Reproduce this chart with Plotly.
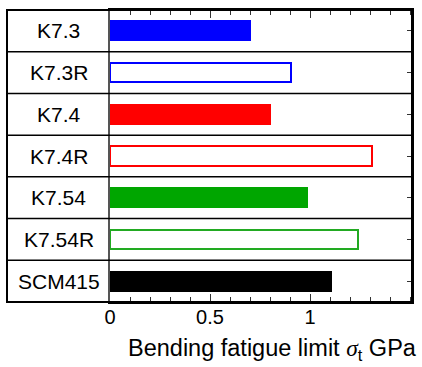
import plotly.graph_objects as go

categories = ["K7.3", "K7.3R", "K7.4", "K7.4R", "K7.54", "K7.54R", "SCM415"]
values = [0.70, 0.905, 0.80, 1.31, 0.985, 1.24, 1.105]
fill_colors = ["#0000FF", "#FFFFFF", "#FF0000", "#FFFFFF", "#00A600", "#FFFFFF", "#000000"]
line_colors = ["#0000FF", "#0000FF", "#FF0000", "#FF0000", "#00A600", "#22AA22", "#000000"]
x_tickvals = [0, 0.5, 1]
x_ticktext = ["0", "0.5", "1"]

FONT = "Liberation Sans, Arial, sans-serif"
W, H = 422, 367
ML, MR, MT, MB = 110, 10, 8, 65
plot_w = W - ML - MR
col_left = (7 - ML) / plot_w  # paper x of the left edge of label column

fig = go.Figure()
fig.add_trace(go.Bar(
    y=categories, x=values, orientation="h",
    marker=dict(color=fill_colors, line=dict(color=line_colors, width=2)),
    width=0.46, showlegend=False, hoverinfo="skip",
))
fig.add_trace(go.Scatter(y=categories, x=[0]*len(categories), yaxis="y2",
                         mode="none", showlegend=False, hoverinfo="skip"))

shapes = []
for i in range(len(categories) - 1):
    shapes.append(dict(type="line", xref="paper", yref="y", x0=col_left, x1=1,
                       y0=i + 0.5, y1=i + 0.5, line=dict(color="black", width=1.5)))
shapes.append(dict(type="rect", xref="paper", yref="paper", x0=col_left, x1=1, y0=0, y1=1,
                   line=dict(color="black", width=2)))

annotations = []
for c in categories:
    annotations.append(dict(text=c, xref="paper", yref="y", x=(col_left + 0) / 2, y=c,
                            xanchor="center", yanchor="middle", showarrow=False,
                            font=dict(family=FONT, size=21, color="black")))
annotations.append(dict(
    text="Bending fatigue limit <span style='font-family:Liberation Serif, Times New Roman, serif'><i>σ</i></span><sub>t</sub> GPa",
    xref="paper", yref="paper", x=(419 - ML) / plot_w, y=-(350 - (H - MB)) / (H - MT - MB),
    xanchor="right", yanchor="middle", showarrow=False,
    font=dict(family=FONT, size=23.5, color="black")))

fig.update_layout(
    width=W, height=H, margin=dict(l=ML, r=MR, t=MT, b=MB),
    paper_bgcolor="white", plot_bgcolor="white",
    font=dict(family=FONT, size=20, color="black"),
    bargap=0,
    xaxis=dict(range=[0, 1.51], tickvals=x_tickvals, ticktext=x_ticktext,
               ticks="inside", ticklen=8, tickwidth=1.2, tickcolor="#333",
               mirror="ticks", showline=True, linecolor="black", linewidth=2,
               showgrid=False, zeroline=False, ticklabelstandoff=-4,
               minor=dict(dtick=0.1, tick0=0, ticks="inside", ticklen=5, tickwidth=1, tickcolor="#333", showgrid=False),
               tickfont=dict(family=FONT, size=20, color="black")),
    yaxis=dict(type="category", categoryorder="array", categoryarray=categories,
               range=[6.5, -0.5], showticklabels=False, ticks="",
               showline=True, linecolor="#555", linewidth=1.5, showgrid=False, zeroline=False),
    yaxis2=dict(type="category", categoryorder="array", categoryarray=categories,
                range=[6.5, -0.5], overlaying="y", side="right", showticklabels=False,
                ticks="inside", ticklen=5, tickwidth=1.2, tickcolor="#333",
                showline=True, linecolor="black", linewidth=2, showgrid=False, zeroline=False),
    shapes=shapes, annotations=annotations,
)

fig.write_html("out.html", config={"displayModeBar": False},
               post_script="document.body.style.margin='0';document.body.style.overflow='hidden';")
